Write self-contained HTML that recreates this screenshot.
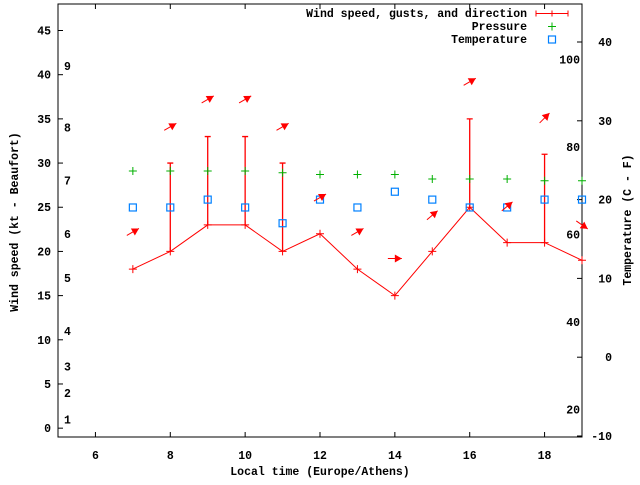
<!DOCTYPE html>
<html><head><meta charset="utf-8"><style>
body{margin:0;background:#fff}
svg text{font-family:"Liberation Mono",monospace;font-size:11.5px;font-weight:bold;fill:#000}
</style></head><body>
<svg id="c" width="640" height="480" xmlns="http://www.w3.org/2000/svg"></svg>
<script>
const hours=[7,8,9,10,11,12,13,14,15,16,17,18,19];
const speed=[18,20,23,23,20,22,18,15,20,25,21,21,19];
const gust=[18,30,33,33,30,22,18,15,20,35,21,31,19];
const pressure=[29.1,29.1,29.1,29.1,28.9,28.7,28.7,28.7,28.2,28.2,28.2,28.0,28.0];
const temperature=[19,19,20,19,17,20,19,21,20,19,19,20,20];
const arrowLevel=[22.2,34.1,37.2,37.2,34.1,26.1,22.2,19.2,24.1,39.2,25.1,35.1,23.0];
const arrowAngle=[30,30,30,30,30,30,30,0,40,30,40,45,-35];
const xTicks=[6,8,10,12,14,16,18];
const yTicks=[0,5,10,15,20,25,30,35,40,45];
const y2Ticks=[-10,0,10,20,30,40];
const fLabels=[20,40,60,80,100];
const bftLabels=[1,2,3,4,5,6,7,8,9];
const bftKt=[1,4,7,11,17,22,28,34,41];

const L=58,R=582,T=4,B=437;
const sx=v=>L+(v-5)*(R-L)/14;
const sy=v=>B-(v+1)*(B-T)/49;
const sy2=v=>436-(v+10)*7.88;
const NS='http://www.w3.org/2000/svg';
const svg=document.getElementById('c');
function mk(tag,at,txt){const e=document.createElementNS(NS,tag);for(const k in at)e.setAttribute(k,at[k]);if(txt!=null)e.textContent=txt;svg.appendChild(e);return e;}

let e=mk('rect',{x:L,y:T,width:R-L,height:B-T,fill:'none',stroke:'#000','stroke-width':1});



xTicks.forEach(v=>{
  const x=sx(v);
  mk('line',{x1:x,y1:B,x2:x,y2:B-5,stroke:'#000'});
  mk('line',{x1:x,y1:T,x2:x,y2:T+5,stroke:'#000'});
  e=mk('text',{x:x,y:459,'text-anchor':'middle'},v);
  
  
});
yTicks.forEach(v=>{
  const y=sy(v);
  mk('line',{x1:L,y1:y,x2:L+5,y2:y,stroke:'#000'});
  e=mk('text',{x:51,y:y+4,'text-anchor':'end'},v);
  
  
});
y2Ticks.forEach(v=>{
  const y=sy2(v);
  mk('line',{x1:R,y1:y,x2:R-5,y2:y,stroke:'#000'});
  e=mk('text',{x:612,y:y+4,'text-anchor':'end'},v);
  
  
});
fLabels.forEach(v=>{
  const y=sy2((v-32)/1.8);
  e=mk('text',{x:580,y:y+4,'text-anchor':'end'},v);
  
  
});
bftLabels.forEach((v,i)=>{
  e=mk('text',{x:64,y:sy(bftKt[i])+4},v);
  
  
});

e=mk('text',{x:320,y:475,'text-anchor':'middle'},'Local time (Europe/Athens)');


e=mk('text',{x:0,y:0,'text-anchor':'middle',transform:'translate(18,222) rotate(-90)'},'Wind speed (kt - Beaufort)');


e=mk('text',{x:0,y:0,'text-anchor':'middle',transform:'translate(631,220) rotate(-90)'},'Temperature (C - F)');



let pts=hours.map((h,i)=>sx(h)+','+sy(speed[i])).join(' ');
e=mk('polyline',{points:pts,fill:'none',stroke:'#f00','stroke-width':1});


hours.forEach((h,i)=>{
  const x=sx(h),y=sy(speed[i]);
  mk('path',{d:`M${x-4} ${y}H${x+4}M${x} ${y-4}V${y+4}`,stroke:'#f00'});
  if(gust[i]>speed[i]){
    const g=sy(gust[i]);
    e=mk('path',{d:`M${x} ${y}V${g}M${x-3} ${g}H${x+3}`,stroke:'#f00','stroke-width':1.3});
    
    
  }
});
hours.forEach((h,i)=>{
  const x=sx(h),y=sy(pressure[i]);
  e=mk('path',{d:`M${x-4} ${y}H${x+4}M${x} ${y-4}V${y+4}`,stroke:'#00b000'});
  
  
});
hours.forEach((h,i)=>{
  const x=sx(h),y=sy2(temperature[i]);
  e=mk('rect',{x:x-3.5,y:y-3.5,width:7,height:7,fill:'none',stroke:'#0080ff','stroke-width':1.2});
  
  
});
hours.forEach((h,i)=>{
  const cx=sx(h),cy=sy(arrowLevel[i]),a=arrowAngle[i]*Math.PI/180;
  const dx=Math.cos(a),dy=-Math.sin(a);
  const tx=cx-7*dx,ty=cy-7*dy,hx=cx+7*dx,hy=cy+7*dy;
  const bx=hx-7*dx,by=hy-7*dy,px=-dy,py=dx;
  e=mk('g',{});
  
  
  const l=document.createElementNS(NS,'line');
  l.setAttribute('x1',tx);l.setAttribute('y1',ty);l.setAttribute('x2',hx);l.setAttribute('y2',hy);l.setAttribute('stroke','#f00');
  e.appendChild(l);
  const p=document.createElementNS(NS,'polygon');
  p.setAttribute('points',`${hx},${hy} ${bx+4*px},${by+4*py} ${bx-4*px},${by-4*py}`);
  p.setAttribute('fill','#f00');
  e.appendChild(p);
});

const leg=[['Wind speed, gusts, and direction',17],['Pressure',30],['Temperature',43]];
leg.forEach(([t,y],i)=>{
  e=mk('text',{x:527,y:y,'text-anchor':'end'},t);
  
  
});
mk('path',{d:'M536 13.5H568M536 10.5V16.5M568 10.5V16.5M552 10.5V16.5',stroke:'#f00'});
mk('path',{d:'M548 26.5H556M552 22.5V30.5',stroke:'#00b000'});
mk('rect',{x:548.5,y:36,width:7,height:7,fill:'none',stroke:'#0080ff','stroke-width':1.2});
</script>
</body></html>
